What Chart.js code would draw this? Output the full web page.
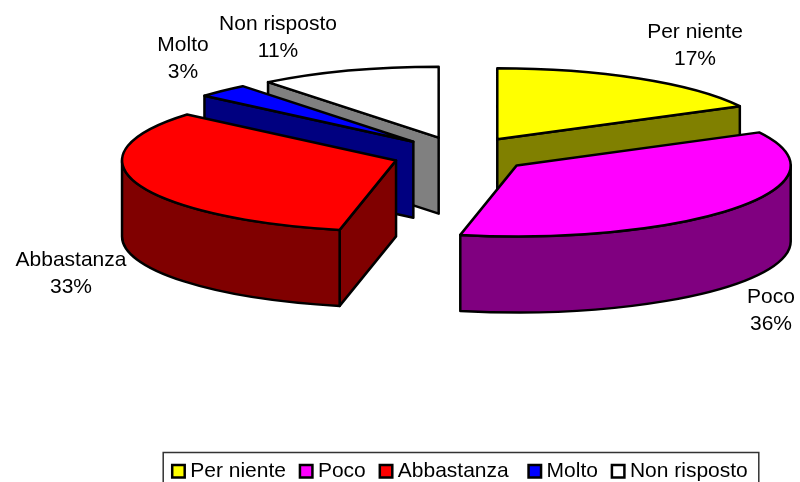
<!DOCTYPE html>
<html><head><meta charset="utf-8">
<style>html,body{margin:0;padding:0;background:#fff}canvas{display:block}</style>
<script src="https://cdn.jsdelivr.net/npm/chart.js@4"></script>
</head><body>
<canvas id="c" width="800" height="482"></canvas>
<script>
const categories = ["Per niente","Poco","Abbastanza","Molto","Non risposto"];
const shares = [17.3,36.0,32.9,3.1,10.7];
const topColors = ["#ffff00","#ff00ff","#ff0000","#0000ff","#ffffff"];
const sideColors = ["#808000","#800080","#800000","#000080","#808080"];
const explode = [202,202,202,202,202];

const view = {dx:2, kx:274/200, ky:71/200, cy:154.6, depth:76};
const labelAnchors = [[695,32],[771,297],[71,260],[183,45],[278,24]];
const FONT = '21px "Liberation Sans", Arial, sans-serif';

const pie3d = {
  id:'pie3d',
  beforeDatasetsDraw(chart){
    const ctx = chart.ctx, arcs = chart.getDatasetMeta(0).data;
    const items = arcs.map((arc,i)=>{
      const mid = (arc.startAngle+arc.endAngle)/2, off = arc.options.offset/4;
      return {i, s:arc.startAngle, e:arc.endAngle, rx:arc.outerRadius*view.kx, ry:arc.outerRadius*view.ky,
        x:arc.x+view.dx+off*Math.cos(mid)*view.kx, y:view.cy+off*Math.sin(mid)*view.ky, mid};
    }).sort((a,b)=>Math.sin(a.mid)-Math.sin(b.mid));
    ctx.save();
    ctx.lineWidth = 2.5; ctx.strokeStyle = '#000'; ctx.lineJoin = 'round';
    for(const t of items){
      const d = view.depth;
      ctx.fillStyle = sideColors[t.i];
      const face = ang=>{
        const px=t.x+t.rx*Math.cos(ang), py=t.y+t.ry*Math.sin(ang);
        ctx.beginPath(); ctx.moveTo(t.x,t.y); ctx.lineTo(px,py); ctx.lineTo(px,py+d); ctx.lineTo(t.x,t.y+d); ctx.closePath();
        ctx.fill(); ctx.stroke();
      };
      if(Math.cos(t.s)<-1e-6) face(t.s);
      if(Math.cos(t.e)>1e-6) face(t.e);
      const a=Math.max(t.s,0), b=Math.min(t.e,Math.PI);
      if(a<b){
        ctx.beginPath();
        ctx.ellipse(t.x,t.y,t.rx,t.ry,0,a,b,false);
        ctx.ellipse(t.x,t.y+d,t.rx,t.ry,0,b,a,true);
        ctx.closePath(); ctx.fill(); ctx.stroke();
      }
      ctx.fillStyle = topColors[t.i];
      ctx.beginPath(); ctx.moveTo(t.x,t.y);
      ctx.ellipse(t.x,t.y,t.rx,t.ry,0,t.s,t.e,false);
      ctx.closePath(); ctx.fill(); ctx.stroke();
    }
    ctx.restore();
    return false;
  },
  afterDraw(chart){
    const ctx = chart.ctx, lg = chart.legend, boxes = lg.legendHitBoxes;
    ctx.save();
    ctx.font = FONT; ctx.fillStyle = '#000'; ctx.textAlign='center'; ctx.textBaseline='middle';
    categories.forEach((c,i)=>{
      const [x,y]=labelAnchors[i];
      ctx.fillText(c,x,y); ctx.fillText(Math.round(shares[i])+'%',x,y+27);
    });
    const first=boxes[0], last=boxes[boxes.length-1];
    ctx.strokeStyle='#333'; ctx.lineWidth=1.5;
    ctx.strokeRect(first.left-8, 452.5, last.left+last.width+11-(first.left-8), 60);
    ctx.strokeStyle='#000'; ctx.lineWidth=2.5;
    boxes.forEach((b,i)=>{
      ctx.fillStyle=topColors[i];
      const y=b.top+b.height/2-6.5;
      ctx.fillRect(b.left+1,y,12.5,12.5); ctx.strokeRect(b.left+1,y,12.5,12.5);
    });
    ctx.restore();
  }
};

new Chart(document.getElementById('c'),{
  type:'pie',
  plugins:[pie3d],
  data:{labels:categories,datasets:[{data:shares,backgroundColor:topColors,offset:explode,borderColor:'#000',borderWidth:2}]},
  options:{
    responsive:false,animation:false,radius:200,
    layout:{padding:{left:119,right:0,top:0,bottom:-10}},
    plugins:{
      tooltip:{enabled:false},
      legend:{position:'bottom',
        labels:{boxWidth:8.5,padding:13,color:'#000',font:{family:'"Liberation Sans", Arial, sans-serif',size:21},
          generateLabels:ch=>categories.map((t,i)=>({text:i===2?t+' ':t,fillStyle:'rgba(0,0,0,0)',strokeStyle:'rgba(0,0,0,0)',lineWidth:0,index:i}))}
      }
    }
  }
});
</script>
</body></html>
